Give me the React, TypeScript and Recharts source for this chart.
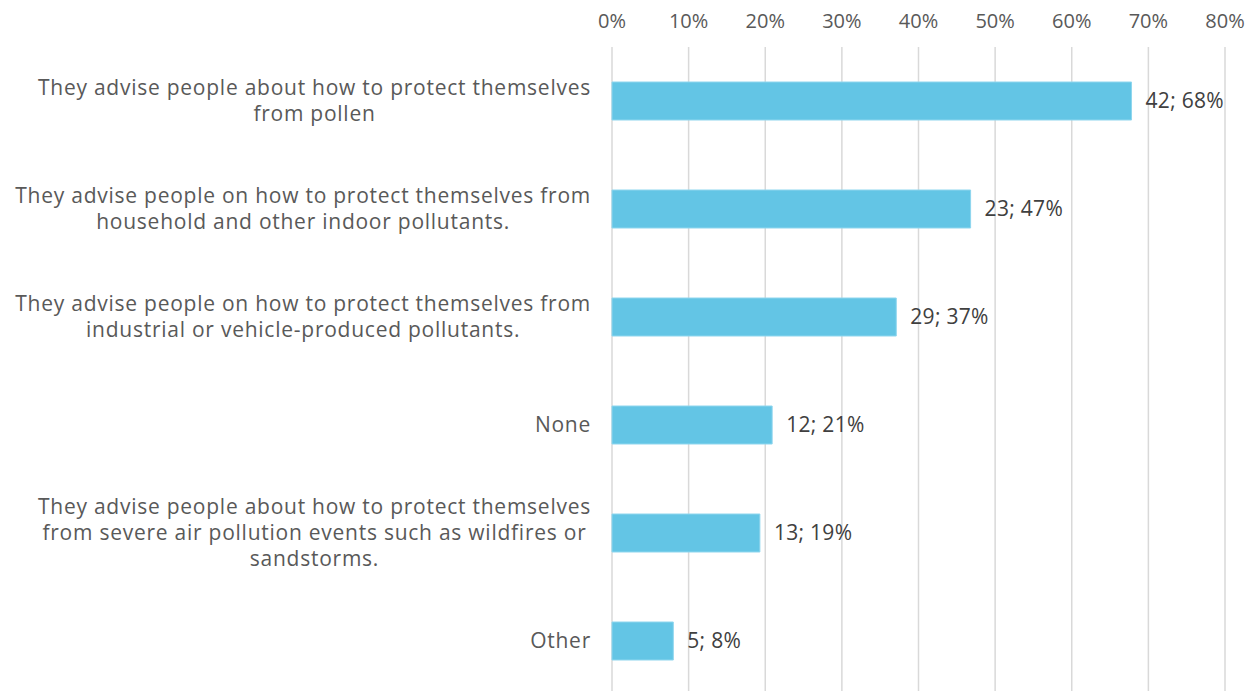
import React from "react";
import { BarChart, Bar, XAxis, YAxis, CartesianGrid, LabelList } from "recharts";

const categories: string[][] = [
  ["They advise people about how to protect themselves", "from pollen"],
  ["They advise people on how to protect themselves from", "household and other indoor pollutants."],
  ["They advise people on how to protect themselves from", "industrial or vehicle-produced pollutants."],
  ["None"],
  ["They advise people about how to protect themselves", "from severe air pollution events such as wildfires or", "sandstorms."],
  ["Other"],
];
const shares: number[] = [0.678, 0.468, 0.371, 0.209, 0.193, 0.08];
const counts: number[] = [42, 23, 29, 12, 13, 5];
const pctLabels: string[] = ["68%", "47%", "37%", "21%", "19%", "8%"];
const xTicks: number[] = [0, 0.1, 0.2, 0.3, 0.4, 0.5, 0.6, 0.7, 0.8];

const FONT = "'Open Sans', sans-serif";
const CAT_SIZE = 21;
const CAT_SPACING = 0.75;

const data = categories.map((c, i) => ({
  name: String(i),
  value: shares[i],
  label: `${counts[i]}; ${pctLabels[i]}`,
}));

let ctx: CanvasRenderingContext2D | null = null;
function measure(t: string): number {
  if (!ctx) {
    const c = document.createElement("canvas");
    ctx = c.getContext("2d");
  }
  if (!ctx) return t.length * 11;
  ctx.font = `${CAT_SIZE}px 'Open Sans'`;
  return ctx.measureText(t).width + t.length * CAT_SPACING;
}

const CategoryTick = (props: any) => {
  const { x, y, payload } = props;
  const lines = categories[Number(payload.value)] || [];
  const maxW = Math.max(...lines.map(measure));
  const right = x - 13;
  const cx = right - maxW / 2;
  const lh = 26;
  const startY = y - ((lines.length - 1) * lh) / 2;
  return (
    <text
      x={cx}
      y={startY}
      textAnchor="middle"
      fill="#595959"
      fontFamily={FONT}
      fontSize={CAT_SIZE}
      letterSpacing={CAT_SPACING}
    >
      {lines.map((l, i) => (
        <tspan key={i} x={cx} y={startY + i * lh} dy="0.35em">
          {l}
        </tspan>
      ))}
    </text>
  );
};

const ValueLabel = (props: any) => {
  const { x, y, width, height, index } = props;
  return (
    <text
      x={x + width + 14}
      y={y + height / 2}
      dy="0.35em"
      fill="#404040"
      fontFamily={FONT}
      fontSize={21}
      letterSpacing={0.3}
    >
      {data[index].label}
    </text>
  );
};

export default function App() {
  return (
    <div style={{ position: "absolute", left: 0, top: 0, width: 1256, height: 700, background: "#fff" }}>
      <BarChart
        width={1256}
        height={700}
        data={data}
        layout="vertical"
        margin={{ top: 0, right: 31, left: 0, bottom: 5 }}
        barSize={38}
      >
        <CartesianGrid horizontal={false} vertical={true} stroke="#d9d9d9" strokeWidth={1.5} />
        <XAxis
          type="number"
          orientation="top"
          domain={[0, 0.8]}
          ticks={xTicks}
          height={47}
          axisLine={false}
          tickLine={false}
          tickSize={0}
          tickMargin={19}
          interval={0}
          tickFormatter={(v: number) => `${Math.round(v * 100)}%`}
          tick={{ fill: "#595959", fontFamily: FONT, fontSize: 20 }}
        />
        <YAxis
          type="category"
          dataKey="name"
          width={612}
          axisLine={false}
          tickLine={false}
          interval={0}
          tick={<CategoryTick />}
        />
        <Bar dataKey="value" fill="#63c5e5" stroke="#8fd6ee" strokeWidth={1} isAnimationActive={false}>
          <LabelList dataKey="label" content={<ValueLabel />} />
        </Bar>
      </BarChart>
    </div>
  );
}
